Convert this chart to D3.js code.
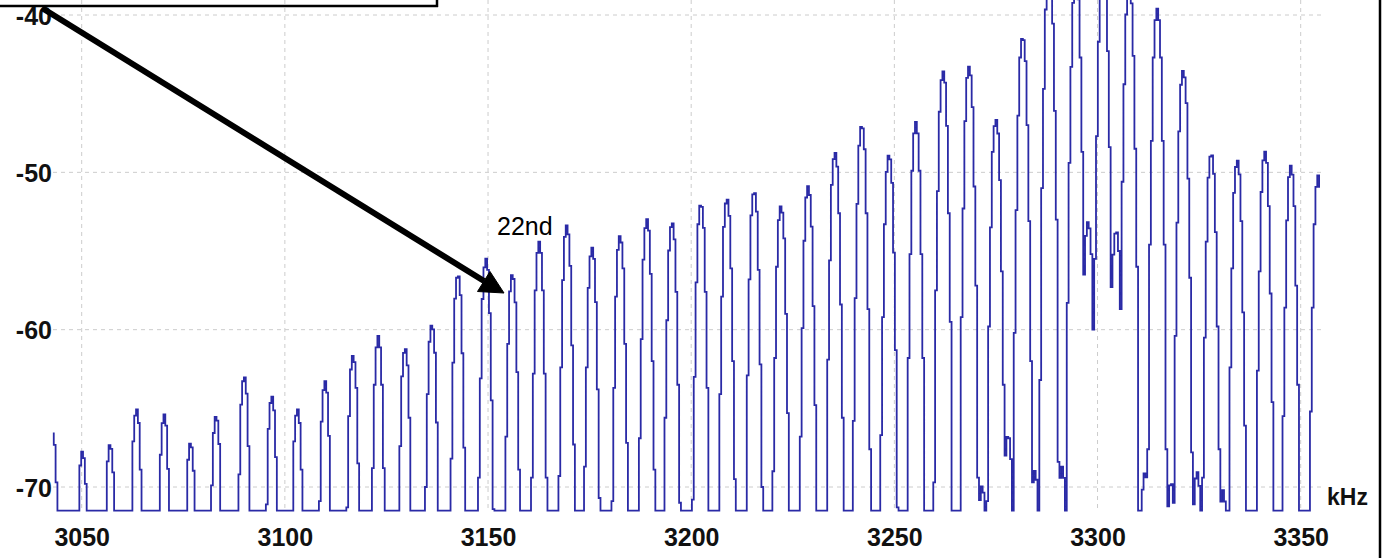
<!DOCTYPE html>
<html>
<head>
<meta charset="utf-8">
<script src="https://cdn.jsdelivr.net/npm/d3@7"></script>
<style>
  body { margin: 0; background: #fff; }
  svg { display: block; }
  .axis text { font-family: "Liberation Sans", Arial, sans-serif; font-weight: bold; font-size: 25px; fill: #111; }
  .grid line { stroke: #cccccc; stroke-width: 1; stroke-dasharray: 4,4; }
</style>
</head>
<body>
<svg width="1384" height="558"></svg>
<script>
// harmonic comb lines: centre frequency (kHz) and peak level (dB)
const harmonicKHz = [3042.9, 3050.2, 3057.0, 3063.5, 3070.3, 3076.8, 3083.1, 3090.0, 3096.8, 3103.1,
  3109.9, 3116.8, 3123.0, 3129.6, 3136.2, 3142.6, 3149.5, 3156.0, 3162.6, 3169.4,
  3175.6, 3182.5, 3189.1, 3195.3, 3202.4, 3208.8, 3215.5, 3222.1, 3228.8, 3235.4,
  3242.0, 3248.7, 3255.3, 3262.0, 3268.4, 3275.0, 3281.6, 3288.1, 3294.7, 3301.4,
  3307.8, 3314.7, 3321.1, 3328.0, 3334.4, 3341.2, 3347.6, 3354.3];
const harmonicDb = [-66.6, -67.6, -67.1, -64.9, -65.3, -67.0, -65.3, -62.8, -64.1, -64.9,
  -63.2, -61.5, -60.4, -61.0, -59.5, -56.3, -55.4, -56.3, -54.4, -53.3,
  -54.7, -53.9, -52.9, -53.0, -51.8, -51.5, -51.0, -52.0, -50.8, -48.6,
  -46.8, -48.7, -46.8, -43.5, -43.2, -46.5, -41.2, -37.0, -37.5, -36.5,
  -38.0, -39.6, -43.4, -48.6, -49.1, -48.6, -49.5, -50.2];

// small noise spurs near the floor and inside the valleys around 3300 kHz
const spurKHz = [3271.6, 3278.0, 3284.6, 3291.3, 3297.7, 3304.6, 3311.7, 3318.1, 3324.5, 3330.9];
const spurDb  = [-69.8, -66.5, -68.9, -68.7, -53.0, -53.5, -68.9, -69.5, -68.9, -70.2];

// valleys that never come down to the floor
const valleyFromKHz = [3295.7, 3302.4];
const valleyToKHz   = [3300.4, 3306.8];
const valleyDb      = [-63.7, -65.0];

// shape of one comb line (dB below its peak vs. distance from centre in kHz)
const skirtKHz = [0, 0.5, 0.8, 1.0, 1.25, 1.5, 1.75, 2.0, 2.25, 2.5];
const skirtDb  = [0, -0.8, -2.2, -4, -7, -10.5, -14, -19, -28, -45];

const xTicks = [3050, 3100, 3150, 3200, 3250, 3300, 3350];
const yTicks = [-40, -50, -60, -70];

const floorDb = -71.5;
const sampleKHz = 0.45;
const startKHz = 3042.9, endKHz = 3354.9;

const svg = d3.select("svg");

const x = d3.scaleLinear().domain([3050, 3350]).range([81.7, 1300.7]);
const y = d3.scaleLinear().domain([-40, -70]).range([15, 487]);
const skirt = d3.scaleLinear().domain(skirtKHz).range(skirtDb).clamp(true);

// build the displayed trace (one value per analyser bin)
const peaks = harmonicKHz.map((f, i) => [f, harmonicDb[i]])
  .concat(spurKHz.map((f, i) => [f, spurDb[i]]));
const trace = [];
for (let f = startKHz; f <= endKHz + 1e-6; f += sampleKHz) {
  let v = floorDb;
  peaks.forEach(([fc, db]) => {
    const d = Math.abs(f - fc);
    if (d <= 2.5) v = Math.max(v, db + skirt(d));
  });
  valleyDb.forEach((db, i) => {
    if (f >= valleyFromKHz[i] && f <= valleyToKHz[i]) v = Math.max(v, db);
  });
  trace.push([f, Math.max(v, floorDb)]);
}

// grid
const gx = svg.append("g").attr("class", "grid");
gx.selectAll("line").data(xTicks).enter().append("line")
  .attr("x1", d => x(d)).attr("x2", d => x(d))
  .attr("y1", 0).attr("y2", 511);
const gy = svg.append("g").attr("class", "grid");
gy.selectAll("line").data(yTicks).enter().append("line")
  .attr("x1", 53).attr("x2", 1323)
  .attr("y1", d => y(d)).attr("y2", d => y(d));

// trace
svg.append("clipPath").attr("id", "plot")
  .append("rect").attr("x", 50).attr("y", 0).attr("width", 1280).attr("height", 520);

const line = d3.line()
  .x(d => x(d[0]))
  .y(d => y(d[1]))
  .curve(d3.curveStep);

svg.append("path")
  .datum(trace)
  .attr("clip-path", "url(#plot)")
  .attr("fill", "none")
  .attr("stroke", "#2a2aa6")
  .attr("stroke-width", 1.8)
  .attr("d", line);

// axes (labels only)
svg.append("g").attr("class", "axis")
  .attr("transform", "translate(0,510)")
  .call(d3.axisBottom(x).tickValues(xTicks).tickFormat(d3.format("d")).tickSize(0).tickPadding(18));
const yAxis = svg.append("g").attr("class", "axis")
  .attr("transform", "translate(53,0)")
  .call(d3.axisLeft(y).tickValues(yTicks).tickFormat(d => d).tickSize(0).tickPadding(1));
svg.selectAll(".axis .domain").remove();
yAxis.selectAll("text").attr("dy", "0.36em");

svg.append("text")
  .attr("x", 1327).attr("y", 505)
  .attr("font-family", "Liberation Sans, Arial, sans-serif")
  .attr("font-weight", "bold").attr("font-size", 23)
  .attr("fill", "#111")
  .text("kHz");

// annotation
svg.append("text")
  .attr("x", 497).attr("y", 235)
  .attr("font-family", "Liberation Sans, Arial, sans-serif")
  .attr("font-size", 25)
  .attr("fill", "#000")
  .text("22nd");

svg.append("line")
  .attr("x1", 42).attr("y1", 8).attr("x2", 484).attr("y2", 281)
  .attr("stroke", "#000").attr("stroke-width", 6);
svg.append("polygon")
  .attr("points", "504,293 477.5,291.5 490,271.5")
  .attr("fill", "#000").attr("stroke", "#000").attr("stroke-width", 1);

// frame pieces
svg.append("line").attr("x1", 0).attr("x2", 438).attr("y1", 6).attr("y2", 6)
  .attr("stroke", "#000").attr("stroke-width", 2.5);
svg.append("line").attr("x1", 437).attr("x2", 437).attr("y1", 0).attr("y2", 7)
  .attr("stroke", "#000").attr("stroke-width", 2.5);
svg.append("line").attr("x1", 1380).attr("x2", 1380).attr("y1", 0).attr("y2", 558)
  .attr("stroke", "#000").attr("stroke-width", 2.5);
</script>
</body>
</html>
